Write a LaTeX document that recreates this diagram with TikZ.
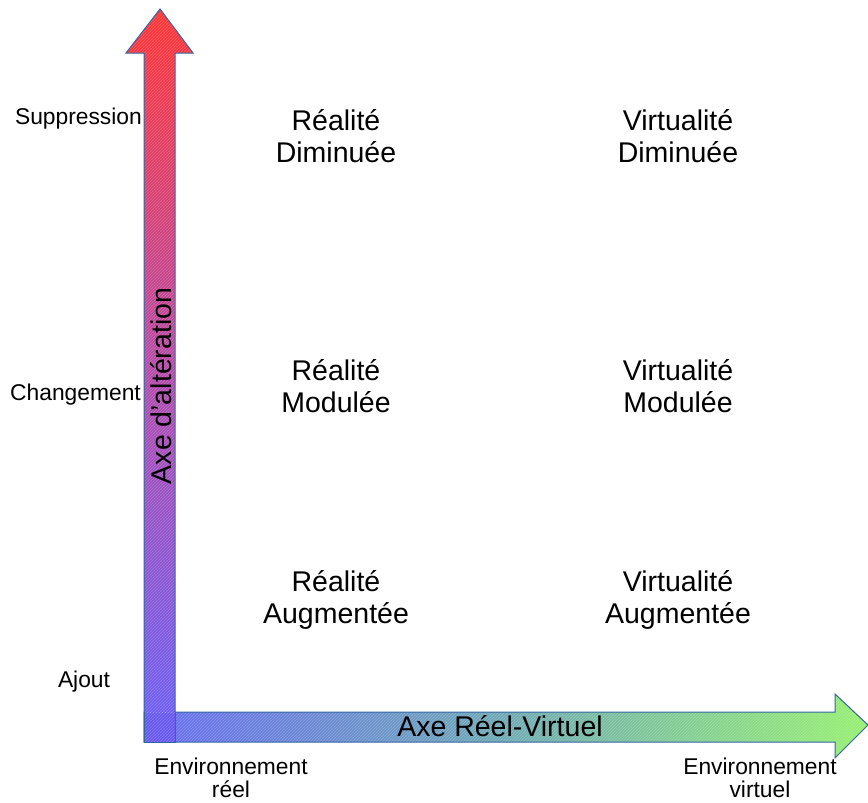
\documentclass[tikz,border=0pt]{standalone}
\usepackage{fontspec}
\setmainfont{Liberation Sans}
\usetikzlibrary{patterns}
\definecolor{edgeblue}{RGB}{52,101,164}
\definecolor{axred}{RGB}{255,52,52}
\definecolor{axpurple}{RGB}{178,74,170}
\definecolor{axblue}{RGB}{104,96,246}
\definecolor{axhblue}{RGB}{104,108,240}
\definecolor{axteal}{RGB}{110,170,180}
\definecolor{axgreen}{RGB}{150,240,112}
\definecolor{cornerblue}{RGB}{102,88,236}
\tikzset{
  bigtxt/.style={font=\fontsize{28.5}{32.5}\selectfont, align=center, inner sep=0pt, anchor=base},
  smalltxt/.style={font=\fontsize{22.8}{23}\selectfont, align=center, inner sep=0pt, anchor=base},
  outline/.style={draw=edgeblue, line width=1pt, line join=miter},
  hatch/.style={pattern=north east lines, pattern color=white, opacity=0.22}
}
\begin{document}
\begin{tikzpicture}[x=1pt,y=-1pt]
\useasboundingbox (0,0) rectangle (868,803);
% horizontal arrow
\def\harrow{(144,712) -- (835,712) -- (835,694) -- (868,725) -- (835,758) -- (835,742) -- (144,742) -- cycle}
\shade[left color=axhblue, right color=axgreen, middle color=axteal] \harrow;
\fill[hatch] \harrow;
\draw[outline] \harrow;
% vertical arrow
\def\varrow{(144,742) -- (144,53) -- (126,53) -- (160,9) -- (193,53) -- (175,53) -- (175,742) -- cycle}
\shade[top color=axred, bottom color=axblue, middle color=axpurple] \varrow;
\fill[hatch] \varrow;
\draw[outline] \varrow;
% overlap corner
\fill[cornerblue] (144.5,712.5) rectangle (174.5,741.5);
\fill[hatch] (144.5,712.5) rectangle (174.5,741.5);
\draw[outline] (144,742) -- (144,712);
\draw[outline] (175,712) -- (175,742) -- (144,742);
% axis labels
\node[bigtxt] (axh) at (500,736) {Axe Réel-Virtuel};
\node[bigtxt, rotate=90] (axv) at (171,386) {Axe d'altération};
% side labels
\node[smalltxt, anchor=base east] (supp) at (142,124) {Suppression};
\node[smalltxt, anchor=base east] (chg) at (141,400) {Changement};
\node[smalltxt] (ajout) at (84,687) {Ajout};
\node[smalltxt] (envr) at (231,797) {Environnement\\réel};
\node[smalltxt] (envv) at (760,797) {Environnement\\virtuel};
% quadrant labels
\node[bigtxt] (rd) at (336,162.5) {Réalité\\Diminuée};
\node[bigtxt] (vd) at (678,162.5) {Virtualité\\Diminuée};
\node[bigtxt] (rm) at (336,412.5) {Réalité\\Modulée};
\node[bigtxt] (vm) at (678,412.5) {Virtualité\\Modulée};
\node[bigtxt] (ra) at (336,623.5) {Réalité\\Augmentée};
\node[bigtxt] (va) at (678,623.5) {Virtualité\\Augmentée};
\end{tikzpicture}
\end{document}
